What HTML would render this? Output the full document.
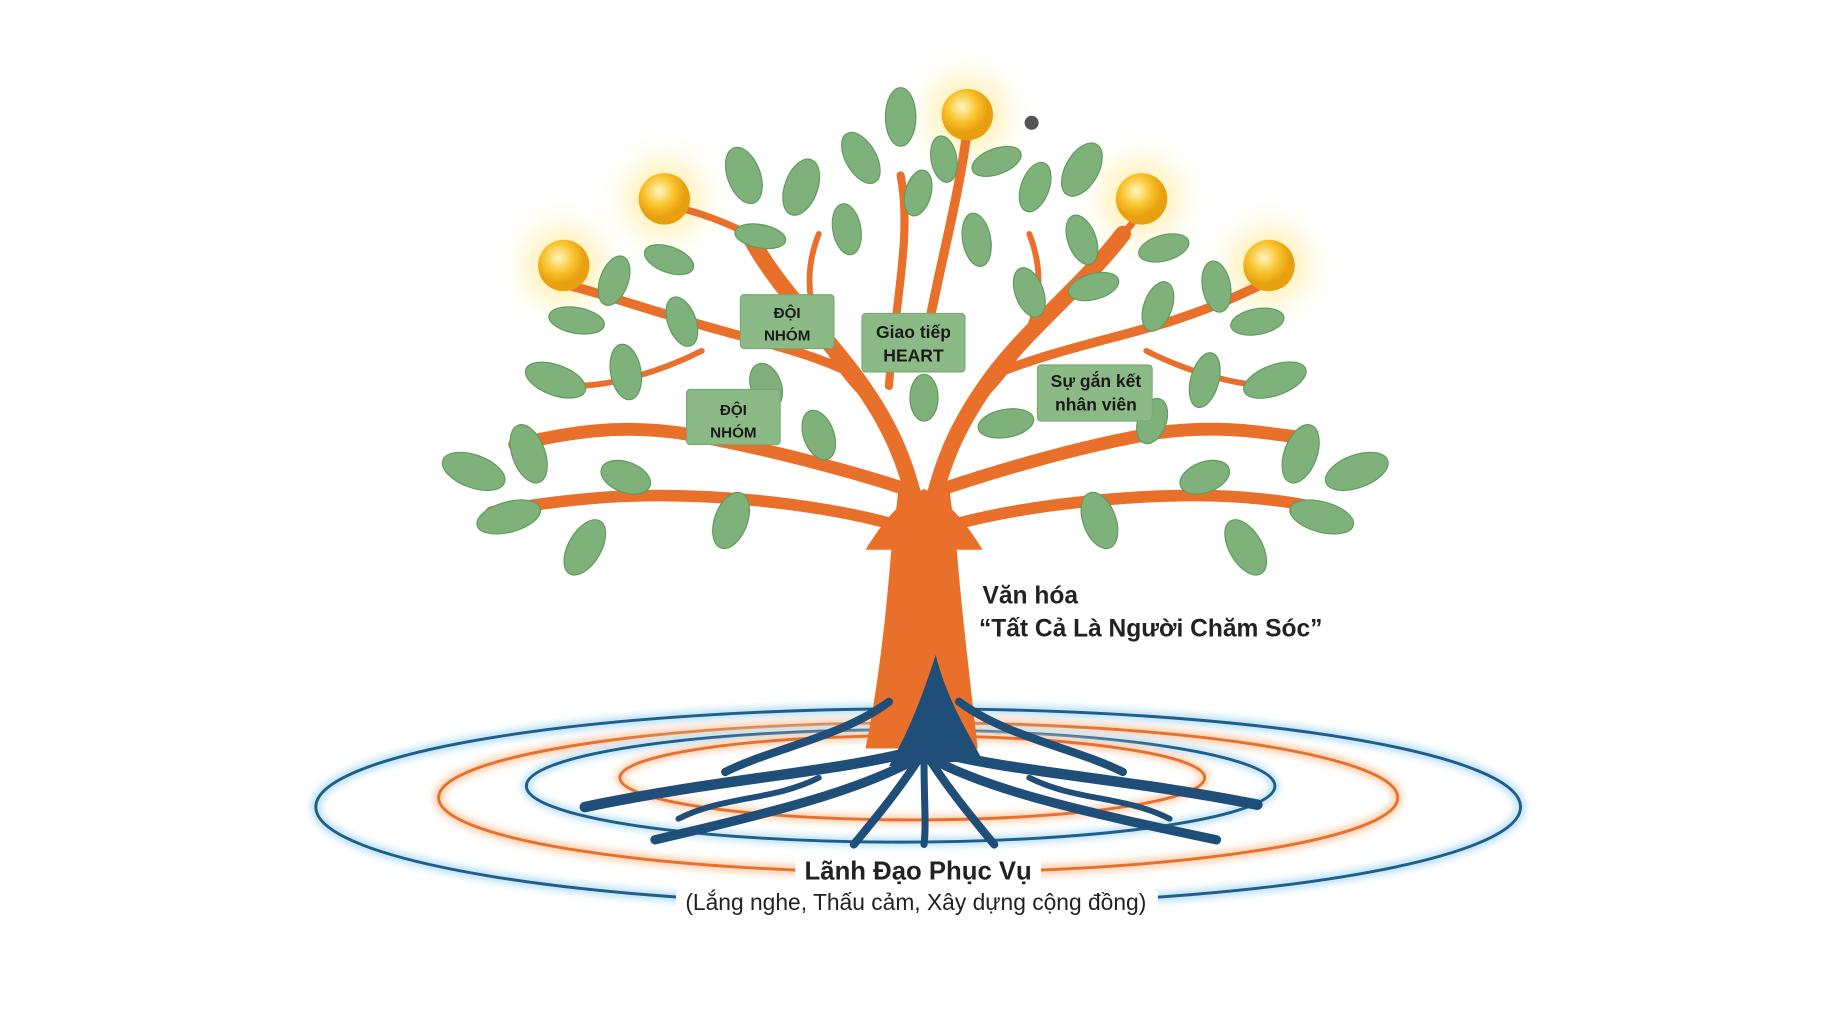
<!DOCTYPE html>
<html><head><meta charset="utf-8"><style>
html,body{margin:0;padding:0;background:#fff;width:1834px;height:1024px;overflow:hidden}
svg{display:block}
text{font-family:"Liberation Sans",sans-serif}
</style></head><body>
<svg width="1834" height="1024" viewBox="0 0 1568 875.5" preserveAspectRatio="none" xmlns="http://www.w3.org/2000/svg">
<defs>
<radialGradient id="glow"><stop offset="0" stop-color="#ffe680" stop-opacity="0.9"/><stop offset="0.5" stop-color="#fff0b0" stop-opacity="0.5"/><stop offset="1" stop-color="#fff" stop-opacity="0"/></radialGradient>
<radialGradient id="orb" cx="0.4" cy="0.35"><stop offset="0" stop-color="#fff6c0"/><stop offset="0.6" stop-color="#f8c22a"/><stop offset="1" stop-color="#e8a010"/></radialGradient>
<filter id="blur"><feGaussianBlur stdDeviation="3"/></filter>
</defs>
<rect width="1568" height="876" fill="#fff"/>
<g fill="none">
<ellipse cx="785" cy="690" rx="515" ry="84" stroke="#bfe3f7" stroke-width="9" filter="url(#blur)"/>
<ellipse cx="785" cy="690" rx="515" ry="84" stroke="#1f5d8a" stroke-width="2.5"/>
<ellipse cx="785" cy="682" rx="410" ry="64" stroke="#fbd3b5" stroke-width="9" filter="url(#blur)"/>
<ellipse cx="785" cy="682" rx="410" ry="64" stroke="#e8702a" stroke-width="2.5"/>
<ellipse cx="770" cy="672" rx="320" ry="48" stroke="#bfe3f7" stroke-width="8" filter="url(#blur)"/>
<ellipse cx="770" cy="672" rx="320" ry="48" stroke="#1f5d8a" stroke-width="2.5"/>
<ellipse cx="780" cy="665" rx="250" ry="36" stroke="#fbd3b5" stroke-width="8" filter="url(#blur)"/>
<ellipse cx="780" cy="665" rx="250" ry="36" stroke="#e8702a" stroke-width="2.5"/>
</g>
<g>
<circle cx="482" cy="227" r="60" fill="url(#glow)"/><circle cx="568" cy="170" r="60" fill="url(#glow)"/>
<circle cx="827" cy="98" r="60" fill="url(#glow)"/><circle cx="976" cy="170" r="60" fill="url(#glow)"/>
<circle cx="1085" cy="227" r="60" fill="url(#glow)"/>
</g>
<g fill="none" stroke="#e8702a" stroke-linecap="round">
<path d="M790 470 C780 400 760 360 730 320 C700 280 660 240 640 200" stroke-width="14"/>
<path d="M790 470 C800 400 820 360 850 320 C880 280 930 240 960 200" stroke-width="14"/>
<path d="M780 420 C720 400 640 380 580 370 C520 362 480 372 440 380" stroke-width="11"/>
<path d="M800 420 C860 400 930 380 990 370 C1050 362 1090 372 1120 375" stroke-width="11"/>
<path d="M770 450 C700 430 600 420 520 425 C480 428 450 432 420 438" stroke-width="10"/>
<path d="M810 450 C880 430 990 420 1060 425 C1100 428 1120 432 1140 438" stroke-width="10"/>
<path d="M730 320 C690 300 640 290 590 275 C540 260 510 250 490 245" stroke-width="8"/>
<path d="M850 320 C900 300 950 290 1000 275 C1040 262 1060 252 1075 245" stroke-width="8"/>
<path d="M640 200 C610 185 590 180 570 175" stroke-width="6"/>
<path d="M960 200 C970 190 975 180 976 172" stroke-width="6"/>
<path d="M790 300 C800 240 820 170 827 110" stroke-width="8"/>
<path d="M760 330 C765 260 780 200 770 150" stroke-width="7"/>
<path d="M740 340 C700 300 680 250 700 200" stroke-width="5"/>
<path d="M840 340 C880 300 900 250 880 200" stroke-width="5"/>
<path d="M600 300 C560 320 520 330 490 330" stroke-width="5"/>
<path d="M980 300 C1020 320 1060 330 1090 330" stroke-width="5"/>
</g>
<path d="M740 640 C752 580 758 520 762 470 L768 420 L812 420 L818 470 C822 520 828 570 836 640 Z" fill="#e8702a"/>
<path d="M740 470 C758 440 775 425 790 418 C805 425 822 440 840 470 Z" fill="#e8702a"/>
<path d="M800 560 C810 600 830 630 840 650 L760 655 C780 620 790 590 800 560Z" fill="#1f4e79"/>
<g fill="none" stroke="#1f4e79" stroke-linecap="round">
<path d="M790 640 C720 660 620 665 500 690" stroke-width="9"/>
<path d="M790 640 C860 660 960 665 1075 688" stroke-width="9"/>
<path d="M790 645 C740 675 660 695 560 718" stroke-width="8"/>
<path d="M790 645 C840 675 930 695 1040 718" stroke-width="8"/>
<path d="M785 650 C765 680 748 700 730 722" stroke-width="7"/>
<path d="M795 650 C815 680 832 700 850 722" stroke-width="7"/>
<path d="M790 650 C790 685 792 705 790 722" stroke-width="6"/>
<path d="M700 665 C660 685 620 680 580 700" stroke-width="5"/>
<path d="M880 665 C920 685 960 680 1000 700" stroke-width="5"/>
<path d="M760 600 C720 630 660 640 620 660" stroke-width="7"/>
<path d="M820 600 C860 630 920 640 960 660" stroke-width="7"/>
</g>
<g fill="#7fb27a" stroke="#5f9a5e" stroke-width="1">
<ellipse cx="405" cy="403" rx="28" ry="14" transform="rotate(20 405 403)"/>
<ellipse cx="452" cy="388" rx="14" ry="26" transform="rotate(-20 452 388)"/>
<ellipse cx="435" cy="442" rx="28" ry="13" transform="rotate(-15 435 442)"/>
<ellipse cx="500" cy="468" rx="14" ry="26" transform="rotate(30 500 468)"/>
<ellipse cx="535" cy="408" rx="22" ry="13" transform="rotate(20 535 408)"/>
<ellipse cx="625" cy="445" rx="14" ry="25" transform="rotate(20 625 445)"/>
<ellipse cx="475" cy="325" rx="27" ry="13" transform="rotate(20 475 325)"/>
<ellipse cx="535" cy="318" rx="13" ry="24" transform="rotate(-10 535 318)"/>
<ellipse cx="493" cy="274" rx="24" ry="11" transform="rotate(10 493 274)"/>
<ellipse cx="525" cy="240" rx="12" ry="22" transform="rotate(20 525 240)"/>
<ellipse cx="583" cy="275" rx="12" ry="22" transform="rotate(-20 583 275)"/>
<ellipse cx="572" cy="222" rx="22" ry="11" transform="rotate(20 572 222)"/>
<ellipse cx="636" cy="150" rx="14" ry="25" transform="rotate(-20 636 150)"/>
<ellipse cx="650" cy="202" rx="22" ry="10" transform="rotate(10 650 202)"/>
<ellipse cx="685" cy="160" rx="14" ry="25" transform="rotate(20 685 160)"/>
<ellipse cx="724" cy="196" rx="12" ry="22" transform="rotate(-10 724 196)"/>
<ellipse cx="736" cy="135" rx="13" ry="24" transform="rotate(-30 736 135)"/>
<ellipse cx="770" cy="100" rx="13" ry="25"/>
<ellipse cx="785" cy="165" rx="11" ry="20" transform="rotate(15 785 165)"/>
<ellipse cx="807" cy="136" rx="11" ry="20" transform="rotate(-10 807 136)"/>
<ellipse cx="852" cy="138" rx="22" ry="11" transform="rotate(-20 852 138)"/>
<ellipse cx="835" cy="205" rx="12" ry="23" transform="rotate(-10 835 205)"/>
<ellipse cx="885" cy="160" rx="12" ry="22" transform="rotate(20 885 160)"/>
<ellipse cx="925" cy="145" rx="14" ry="25" transform="rotate(30 925 145)"/>
<ellipse cx="925" cy="205" rx="12" ry="22" transform="rotate(-20 925 205)"/>
<ellipse cx="880" cy="250" rx="12" ry="22" transform="rotate(-20 880 250)"/>
<ellipse cx="935" cy="245" rx="22" ry="11" transform="rotate(-15 935 245)"/>
<ellipse cx="995" cy="212" rx="22" ry="11" transform="rotate(-15 995 212)"/>
<ellipse cx="990" cy="262" rx="12" ry="22" transform="rotate(20 990 262)"/>
<ellipse cx="1040" cy="245" rx="12" ry="22" transform="rotate(-10 1040 245)"/>
<ellipse cx="1075" cy="275" rx="23" ry="11" transform="rotate(-10 1075 275)"/>
<ellipse cx="1030" cy="325" rx="12" ry="24" transform="rotate(15 1030 325)"/>
<ellipse cx="1090" cy="325" rx="28" ry="13" transform="rotate(-20 1090 325)"/>
<ellipse cx="1112" cy="388" rx="14" ry="26" transform="rotate(20 1112 388)"/>
<ellipse cx="1160" cy="403" rx="28" ry="14" transform="rotate(-20 1160 403)"/>
<ellipse cx="1130" cy="442" rx="28" ry="13" transform="rotate(15 1130 442)"/>
<ellipse cx="1065" cy="468" rx="14" ry="26" transform="rotate(-30 1065 468)"/>
<ellipse cx="1030" cy="408" rx="22" ry="13" transform="rotate(-20 1030 408)"/>
<ellipse cx="940" cy="445" rx="14" ry="25" transform="rotate(-20 940 445)"/>
<ellipse cx="860" cy="362" rx="24" ry="12" transform="rotate(-10 860 362)"/>
<ellipse cx="700" cy="372" rx="13" ry="22" transform="rotate(-20 700 372)"/>
<ellipse cx="655" cy="330" rx="13" ry="20" transform="rotate(-20 655 330)"/>
<ellipse cx="790" cy="340" rx="12" ry="20"/>
<ellipse cx="985" cy="360" rx="12" ry="20" transform="rotate(20 985 360)"/>
</g>
<g>
<circle cx="482" cy="227" r="22" fill="url(#orb)"/><circle cx="568" cy="170" r="22" fill="url(#orb)"/>
<circle cx="827" cy="98" r="22" fill="url(#orb)"/><circle cx="976" cy="170" r="22" fill="url(#orb)"/>
<circle cx="1085" cy="227" r="22" fill="url(#orb)"/>
</g>
<circle cx="882" cy="105" r="6" fill="#555"/>
<g fill="#8cba86" stroke="#7aa874">
<rect x="633" y="252" width="80" height="46" rx="3"/>
<rect x="587" y="333" width="80" height="47" rx="3"/>
<rect x="737" y="268" width="88" height="50" rx="3"/>
<rect x="887" y="312" width="98" height="48" rx="3"/>
</g>
<g font-size="13" fill="#1a1a1a" text-anchor="middle" font-weight="bold">
<text x="673" y="272">ĐỘI</text><text x="673" y="291">NHÓM</text>
<text x="627" y="355">ĐỘI</text><text x="627" y="374">NHÓM</text>
</g>
<g font-size="15" fill="#1a1a1a" text-anchor="middle" font-weight="bold">
<text x="781" y="289">Giao tiếp</text><text x="781" y="309">HEART</text>
<text x="937" y="331">Sự gắn kết</text><text x="937" y="351">nhân viên</text>
</g>
<g fill="#222" font-weight="bold" font-size="21">
<text x="840" y="516">Văn hóa</text>
<text x="837" y="544">“Tất Cả Là Người Chăm Sóc”</text>
</g>
<rect x="680" y="731" width="210" height="28" fill="#fff" rx="6"/>
<rect x="578" y="759" width="412" height="26" fill="#fff" rx="6"/>
<g text-anchor="middle" fill="#222">
<text x="785" y="752" font-size="22" font-weight="bold">Lãnh Đạo Phục Vụ</text>
<text x="783" y="778" font-size="19.5">(Lắng nghe, Thấu cảm, Xây dựng cộng đồng)</text>
</g>
</svg>
</body></html>
